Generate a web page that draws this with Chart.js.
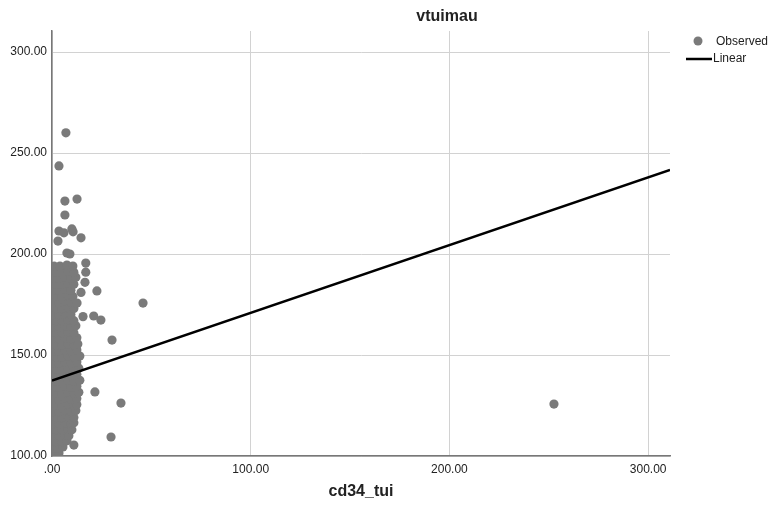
<!DOCTYPE html>
<html>
<head>
<meta charset="utf-8">
<script src="https://cdn.jsdelivr.net/npm/chart.js@4"></script>
<style>
  html, body { margin: 0; padding: 0; background: #fff; }
  #wrap { width: 773px; height: 510px; }
</style>
</head>
<body>
<div id="wrap"><canvas id="chart"></canvas></div>
<script>
// observed points [cd34_tui, vtuimau]
const observed = [
  // dense block near zero
  [1,101],[3.5,101.5],
  [0.5,104],[3,104],[5.5,104.5],
  [2,107],[5,107],[7.5,107.5],
  [0.5,110],[3.5,110],[6.5,110.5],[8.5,110],
  [2,113],[5,113],[8,113.5],[10,113],
  [0.5,116],[3.5,116],[6.5,116.5],[9.5,116],[11,116.5],
  [2,119],[5,119],[8,119.5],[11,119],
  [0.5,122],[3.5,122],[6.5,122.5],[9.5,122],[12,122.5],
  [2,125],[5,125],[8,125.5],[11,125],[12.5,125.5],
  [0.5,128],[3.5,128],[6.5,128.5],[9.5,128],[12.5,128.5],
  [2,131],[5,131],[8,131.5],[11,131],[13.5,131.5],
  [0.5,134],[3.5,134],[6.5,134.5],[9.5,134],[12.5,134.5],
  [2,137],[5,137],[8,137.5],[11,137],[14,137.5],
  [0.5,140],[3.5,140],[6.5,140.5],[9.5,140],[12.5,140.5],
  [2,143],[5,143],[8,143.5],[11,143],[13.5,143.5],
  [0.5,146],[3.5,146],[6.5,146.5],[9.5,146],[12.5,146.5],
  [2,149],[5,149],[8,149.5],[11,149],[14,149.5],
  [0.5,152],[3.5,152],[6.5,152.5],[9.5,152],[12.5,152.5],
  [2,155],[5,155],[8,155.5],[11,155],[13,155.5],
  [0.5,158],[3.5,158],[6.5,158.5],[9.5,158],[12.5,158.5],
  [2,161],[5,161],[8,161.5],[11,161],
  [0.5,164],[3.5,164],[6.5,164.5],[9.5,164],[12,164.5],
  [2,167],[5,167],[8,167.5],[11,167],
  [0.5,170],[3.5,170],[6.5,170.5],[9.5,170],
  [2,173],[5,173],[8,173.5],[11,173],
  [0.5,176],[3.5,176],[6.5,176.5],[9.5,176],
  [2,179],[5,179],[8,179.5],[10.5,179],
  [0.5,182],[3.5,182],[6.5,182.5],[9.5,182],
  [2,185],[5,185],[8,185.5],[11,185],
  [0.5,188],[3.5,188],[6.5,188.5],[9.5,188],[12,188.5],
  [2,191],[5,191],[8,191.5],[11,191],
  [1,194],[4,194],[7.5,194.5],[10.5,194],
  // scattered points
  [7,260],[3.5,243.6],[6.5,226.2],[12.6,227.2],[6.5,219.3],
  [3.5,211.4],[6,210.5],[10,212.4],[10.6,211],[3,206.4],[14.6,208],
  [7.5,200.5],[9,200],[17,195.5],[17,191],[16.6,186],[14.6,181],
  [12.6,175.7],[22.6,181.7],[45.8,175.7],[21,169.3],[24.6,167.3],
  [15.6,169],[30.2,157.4],[21.6,131.7],[34.7,126.2],[29.7,109.4],
  [11,105.4],[252.6,125.7]
];

// fitted linear line end points
const lineX = [0, 311];
const lineY = [137.3, 241.6];

const xTicks = [0, 100, 200, 300];
const yTicks = [100, 150, 200, 250, 300];

const FONT = 'Arial, "Liberation Sans", sans-serif';

const extras = {
  id: 'extras',
  afterDraw(chart) {
    const c = chart.ctx, a = chart.chartArea;
    c.save();
    c.fillStyle = '#222';
    c.textBaseline = 'middle';
    c.textAlign = 'center';
    c.font = 'bold 16px ' + FONT;
    c.fillText('vtuimau', 447, 17);
    c.fillText('cd34_tui', (a.left + a.right) / 2, 492);
    // legend
    c.textAlign = 'left';
    c.font = '12px ' + FONT;
    c.fillStyle = '#7a7a7a';
    c.beginPath();
    c.arc(698, 41, 4.5, 0, Math.PI * 2);
    c.fill();
    c.fillStyle = '#222';
    c.fillText('Observed', 716, 42);
    c.strokeStyle = '#000';
    c.lineWidth = 2.5;
    c.beginPath();
    c.moveTo(686, 59);
    c.lineTo(712, 59);
    c.stroke();
    c.fillText('Linear', 713, 59);
    c.restore();
  }
};

new Chart(document.getElementById('chart'), {
  type: 'scatter',
  data: {
    datasets: [{
      label: 'Observed',
      order: 1,
      data: observed.map(p => ({x: p[0], y: p[1]})),
      pointRadius: 4.6,
      pointHoverRadius: 4.6,
      backgroundColor: '#7a7a7a',
      borderWidth: 0
    }, {
      label: 'Linear',
      order: 0,
      type: 'line',
      data: lineX.map((x, i) => ({x: x, y: lineY[i]})),
      borderColor: '#000',
      borderWidth: 2.5,
      pointRadius: 0,
      fill: false
    }]
  },
  options: {
    responsive: true,
    maintainAspectRatio: false,
    animation: false,
    layout: { padding: { left: 0, right: 103, top: 31, bottom: 0 } },
    plugins: { legend: { display: false }, tooltip: { enabled: false } },
    scales: {
      x: {
        type: 'linear',
        min: 0, max: 311,
        afterBuildTicks: s => { s.ticks = xTicks.map(v => ({value: v})); },
        afterFit: s => { s.height = 54; },
        grid: { color: '#d2d2d2', lineWidth: 1, drawTicks: false },
        border: { color: '#777', width: 1.5 },
        ticks: {
          padding: 6,
          color: '#222',
          font: { family: FONT, size: 12 },
          maxRotation: 0,
          callback: v => v === 0 ? '.00' : v.toFixed(2)
        }
      },
      y: {
        type: 'linear',
        min: 100, max: 310.4,
        afterBuildTicks: s => { s.ticks = yTicks.map(v => ({value: v})); },
        afterFit: s => { s.width = 52; },
        grid: { color: '#d2d2d2', lineWidth: 1, drawTicks: false },
        border: { color: '#777', width: 1.5 },
        ticks: {
          padding: 5,
          color: '#222',
          font: { family: FONT, size: 12 },
          callback: v => v.toFixed(2)
        }
      }
    }
  },
  plugins: [extras]
});
</script>
</body>
</html>
